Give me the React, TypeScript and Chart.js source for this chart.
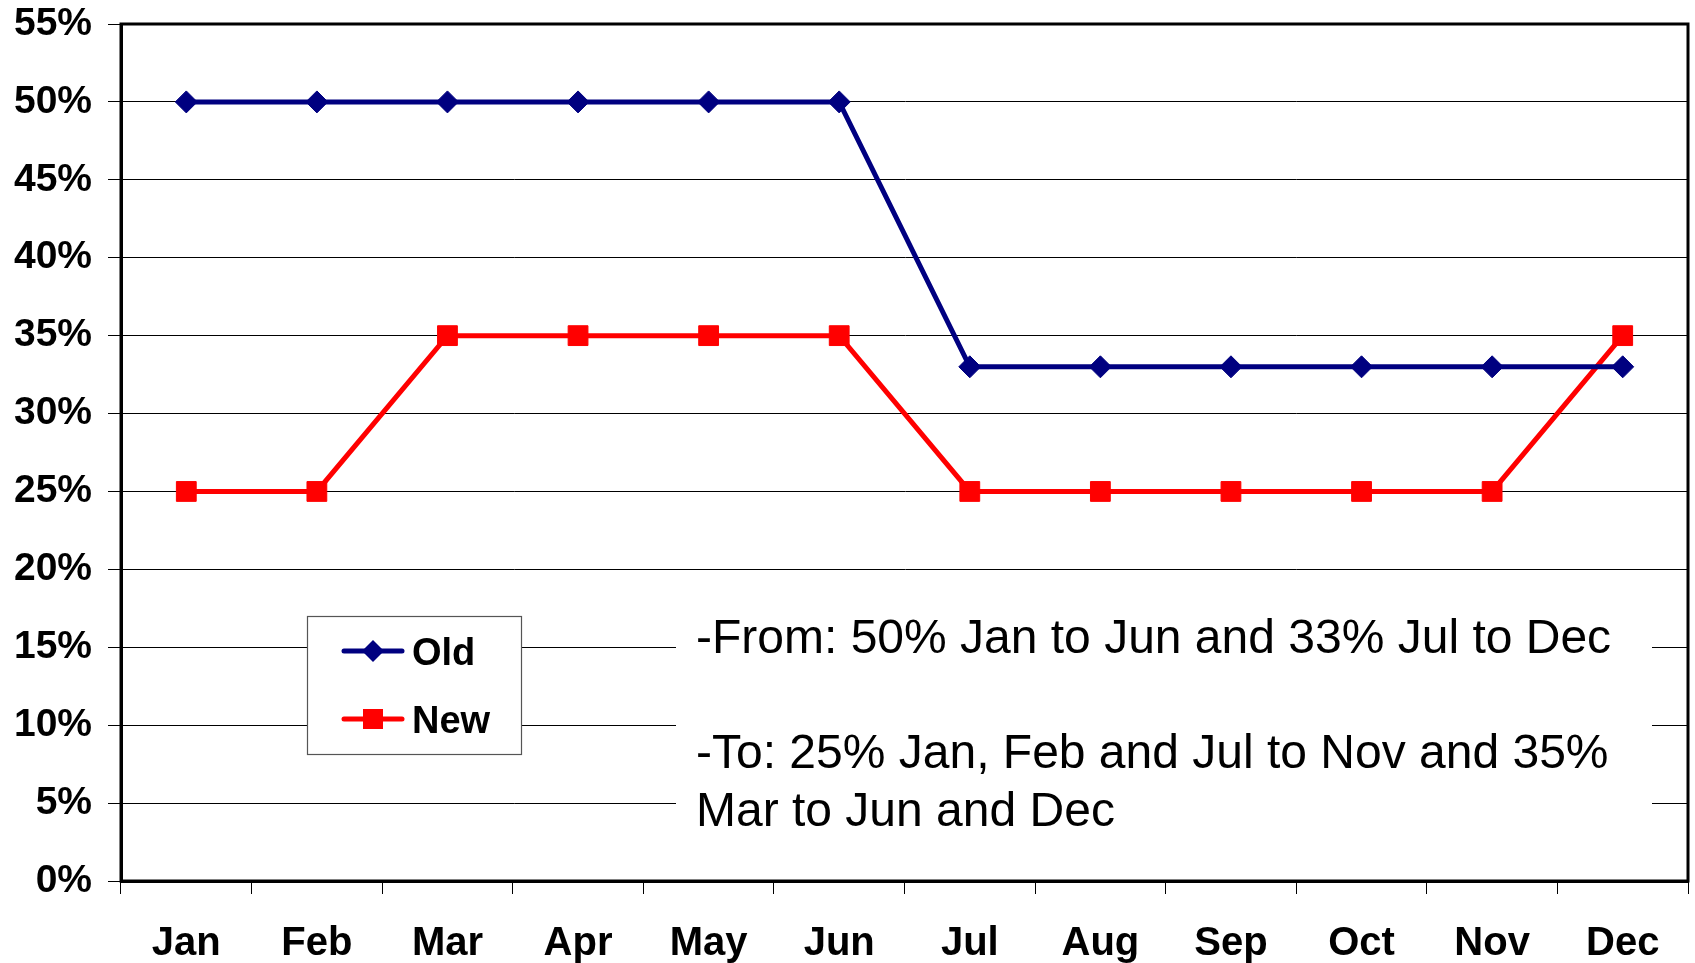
import React, { useEffect, useRef } from "react";
import { Chart, registerables } from "chart.js";

Chart.register(...registerables);

const categories = ["Jan", "Feb", "Mar", "Apr", "May", "Jun", "Jul", "Aug", "Sep", "Oct", "Nov", "Dec"];
const oldValues = [50, 50, 50, 50, 50, 50, 33, 33, 33, 33, 33, 33];
const newValues = [25, 25, 35, 35, 35, 35, 25, 25, 25, 25, 25, 35];
const seriesNames = ["Old", "New"];
const noteLines = [
  "-From: 50% Jan to Jun and 33% Jul to Dec",
  "",
  "-To: 25% Jan, Feb and Jul to Nov and 35%",
  "Mar to Jun and Dec",
];

const FONT = "'Liberation Sans', Arial, Helvetica, sans-serif";

const overlayPlugin = {
  id: "overlay",
  beforeDatasetsDraw(chart: any) {
    const { ctx, chartArea } = chart;
    const L = chartArea.left;
    const T = chartArea.top;
    ctx.save();
    // note box (white background)
    ctx.fillStyle = "#ffffff";
    ctx.fillRect(L + 555, T + 560, 976, 258);
    ctx.fillStyle = "#000000";
    ctx.font = `48px ${FONT}`;
    ctx.textAlign = "left";
    ctx.textBaseline = "alphabetic";
    const baselines = [629, 686, 744, 802];
    noteLines.forEach((t, i) => {
      if (t) ctx.fillText(t, L + 575, T + baselines[i]);
    });

    // legend box
    const bx = L + 186, by = T + 592, bw = 214, bh = 138;
    ctx.fillStyle = "#ffffff";
    ctx.fillRect(bx, by, bw, bh);
    ctx.strokeStyle = "#555555";
    ctx.lineWidth = 1.2;
    ctx.strokeRect(bx + 0.5, by + 0.5, bw, bh);
    chart.data.datasets.forEach((ds: any, i: number) => {
      const cy = T + 627 + i * 68;
      const x0 = L + 223, x1 = L + 281, cx = (x0 + x1) / 2;
      ctx.strokeStyle = ds.borderColor;
      ctx.lineWidth = 5;
      ctx.lineCap = "round";
      ctx.beginPath();
      ctx.moveTo(x0, cy);
      ctx.lineTo(x1, cy);
      ctx.stroke();
      ctx.fillStyle = ds.borderColor;
      ctx.beginPath();
      if (ds.pointStyle === "rectRot") {
        const r = 11;
        ctx.moveTo(cx - r, cy);
        ctx.lineTo(cx, cy - r);
        ctx.lineTo(cx + r, cy);
        ctx.lineTo(cx, cy + r);
        ctx.closePath();
      } else {
        const h = 10;
        ctx.rect(cx - h, cy - h, 2 * h, 2 * h);
      }
      ctx.fill();
      ctx.fillStyle = "#000000";
      ctx.font = `bold 38px ${FONT}`;
      ctx.fillText(ds.label, L + 291, cy + 14);
    });

    // chart-area frame
    ctx.strokeStyle = "#000000";
    ctx.lineWidth = 3;
    ctx.lineCap = "butt";
    ctx.strokeRect(chartArea.left, chartArea.top, chartArea.right - chartArea.left, chartArea.bottom - chartArea.top);
    ctx.restore();
  },
};

export default function App() {
  const ref = useRef<HTMLCanvasElement | null>(null);
  useEffect(() => {
    document.body.style.margin = "0";
    if (!ref.current) return;
    const chart = new Chart(ref.current, {
      type: "line",
      data: {
        labels: categories,
        datasets: [
          {
            label: seriesNames[0],
            data: oldValues,
            borderColor: "#000080",
            backgroundColor: "#000080",
            borderWidth: 5,
            pointStyle: "rectRot",
            pointRadius: 11,
            pointBorderWidth: 1,
            pointBackgroundColor: "#000080",
            pointBorderColor: "#000080",
            tension: 0,
          },
          {
            label: seriesNames[1],
            data: newValues,
            borderColor: "#FF0000",
            backgroundColor: "#FF0000",
            borderWidth: 5,
            pointStyle: "rect",
            pointRadius: 14,
            pointBorderWidth: 1,
            pointBackgroundColor: "#FF0000",
            pointBorderColor: "#FF0000",
            tension: 0,
          },
        ],
      },
      options: {
        responsive: false,
        animation: false,
        layout: { autoPadding: false, padding: { top: 24, right: 7, left: 0, bottom: 0 } },
        plugins: { legend: { display: false }, tooltip: { enabled: false } },
        scales: {
          x: {
            offset: true,
            afterFit: (s: any) => { s.height = 82; s.paddingLeft = 0; s.paddingRight = 0; },
            grid: { drawOnChartArea: false, drawTicks: true, tickLength: 13, offset: true, color: "#000", lineWidth: 1 },
            border: { display: true, color: "#000", width: 3 },
            ticks: { color: "#000", padding: 26, font: { family: FONT, size: 40, weight: "bold" }, maxRotation: 0, autoSkip: false },
          },
          y: {
            min: 0,
            max: 55,
            afterFit: (s: any) => { s.width = 121; s.paddingTop = 0; s.paddingBottom = 0; },
            grid: { drawOnChartArea: true, drawTicks: true, tickLength: 13, color: "#000", lineWidth: 1 },
            border: { display: true, color: "#000", width: 3 },
            ticks: {
              stepSize: 5,
              color: "#000",
              padding: 16,
              font: { family: FONT, size: 39, weight: "bold" },
              callback: (v: any) => `${v}%`,
            },
          },
        },
      },
      plugins: [overlayPlugin],
    });
    return () => chart.destroy();
  }, []);
  return (
    <div style={{ width: 1695, height: 963 }}>
      <canvas ref={ref} width={1695} height={963} style={{ display: "block", width: 1695, height: 963 }} />
    </div>
  );
}
